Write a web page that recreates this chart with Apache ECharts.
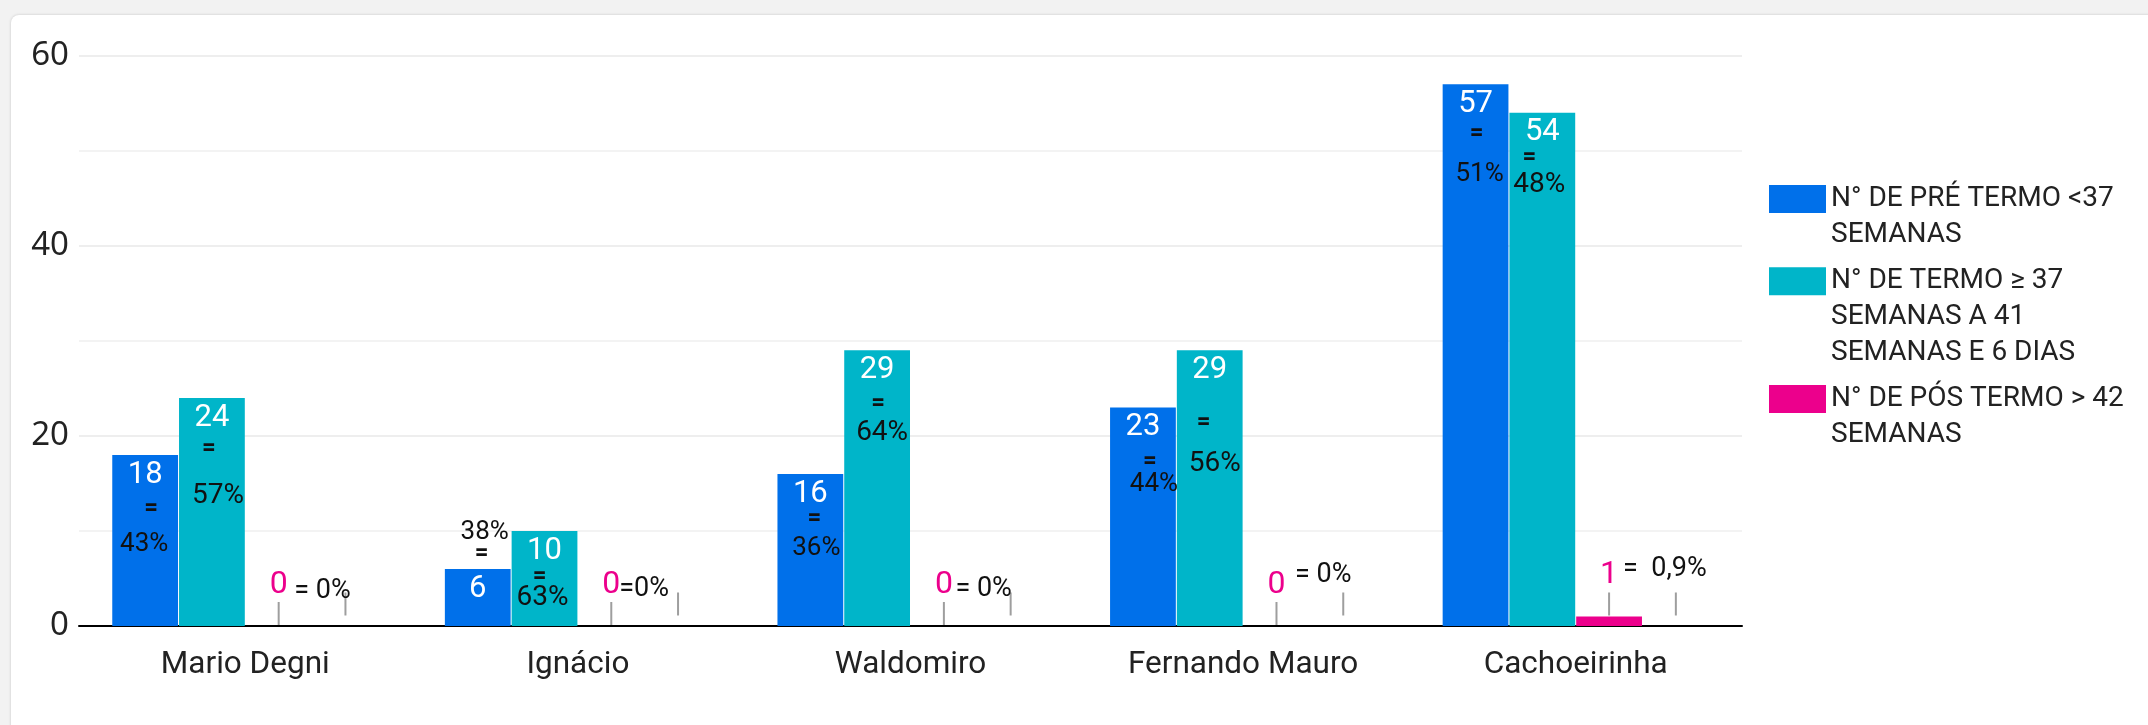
<!DOCTYPE html>
<html>
<head>
<meta charset="utf-8">
<script src="https://cdn.jsdelivr.net/npm/echarts@6/dist/echarts.min.js"></script>
<style>
html,body{margin:0;padding:0;width:2148px;height:725px;overflow:hidden;background:#f2f2f2;}
#card{position:absolute;left:11px;top:15px;width:2300px;height:900px;background:#fff;border-radius:8px;box-shadow:0 0 3px rgba(0,0,0,0.18);}
#chart{position:absolute;left:0;top:0;width:2148px;height:725px;}
</style>
</head>
<body>
<div id="card"></div>
<div id="chart"></div>
<script>
// ---- data ----
const categories = ['Mario Degni', 'Ignácio', 'Waldomiro', 'Fernando Mauro', 'Cachoeirinha'];
const seriesNames = [
  'N° DE PRÉ TERMO <37 SEMANAS',
  'N° DE TERMO ≥ 37 SEMANAS A 41 SEMANAS E 6 DIAS',
  'N° DE PÓS TERMO > 42 SEMANAS'
];
const legendLabels = [
  'N° DE PRÉ TERMO <37\nSEMANAS',
  'N° DE TERMO ≥ 37\nSEMANAS A 41\nSEMANAS E 6 DIAS',
  'N° DE PÓS TERMO > 42\nSEMANAS'
];
const preTermo = [18, 6, 16, 23, 57];
const termo = [24, 10, 29, 29, 54];
const posTermo = [0, 0, 0, 0, 1];
const annotationCarrier = [1, 1, 1, 1, 1]; // hidden 4th series that carries the "= x%" notes
const prePct = ['43%', '38%', '36%', '44%', '51%'];
const termoPct = ['57%', '63%', '64%', '56%', '48%'];
const posPct = ['= 0%', '=0%', '= 0%', '= 0%', '=  0,9%'];
const eqSign = ['=', '=', '=', '=', '='];
const yMin = 0, yMax = 60, yStep = 20;

// ---- annotation placement (pixel offsets from the bar top, styles only) ----
const preEqOff = [[6, 54], [4, -15], [4, 45], [7, 55], [1, 50]];
const prePctOff = [[-1, 90], [7, -36], [6, 75], [11, 77], [4, 90]];
const termoEqOff = [[-3, 51], [-5, 46], [1, 54], [-6, 73], [-13, 45]];
const termoPctOff = [[6, 98], [-2, 67], [5, 83], [5, 114], [-3, 72]];
const posPctOff = [[-23, -25], [-34, -27], [-27, -27], [-20, -41], [-11, -47]];

const BLUE = '#0070ea', TEAL = '#00b5c9', PINK = '#ec008c';
const FONT = 'Roboto';

function stemPoints(vals) {
  return categories.map((c, i) => ({
    coord: [c, vals[i]], symbol: 'rect', symbolSize: [2, 23], symbolOffset: [0, -12.5],
    itemStyle: { color: '#9e9e9e' }, label: { show: false }
  }));
}
function textPoints(vals, texts, offs, size, weight) {
  return categories.map((c, i) => ({
    coord: [c, vals[i]], symbol: 'circle', symbolSize: 1,
    itemStyle: { color: 'rgba(0,0,0,0)' },
    label: { show: true, position: 'inside', formatter: texts[i], offset: offs[i],
             fontSize: size, fontWeight: weight || 'normal', fontFamily: FONT, color: '#111' }
  }));
}
const valueLabel = {
  show: true, position: 'insideTop', distance: 4, color: '#fff',
  fontFamily: FONT, fontSize: 31, lineHeight: 32
};

const chart = echarts.init(document.getElementById('chart'));
const LH = 36;
const iconTops = [185, 267.3, 385];
const legends = seriesNames.map((n, k) => {
  const lines = legendLabels[k].split('\n').length;
  // leading blank lines keep the first text line level with the swatch
  const lead = '\n'.repeat(lines - 1);
  const top = iconTops[k] - ((2 * lines - 1) * LH / 2 - 14);
  return {
    left: 1769, top: top, orient: 'vertical', padding: 0,
    itemWidth: 57, itemHeight: 28, itemGap: 0, icon: 'rect', selectedMode: false,
    data: [n],
    formatter: () => lead + legendLabels[k],
    textStyle: { fontFamily: FONT, fontSize: 28, color: '#222', lineHeight: LH }
  };
});

chart.setOption({
  animation: false,
  backgroundColor: 'transparent',
  grid: { left: 79, right: 406, top: 55.7, bottom: 99, containLabel: false },
  legend: legends,
  xAxis: {
    type: 'category', data: categories,
    axisTick: { show: false },
    axisLine: { lineStyle: { color: '#000', width: 2 } },
    axisLabel: { fontFamily: FONT, fontSize: 31.5, color: '#222', margin: 23 }
  },
  yAxis: {
    type: 'value', min: yMin, max: yMax, interval: yStep,
    axisLine: { show: false }, axisTick: { show: false },
    axisLabel: { fontFamily: 'Noto Sans', fontSize: 33, color: '#222', margin: 10 },
    splitLine: { lineStyle: { color: '#eeeeee', width: 2 } },
    minorTick: { show: false, splitNumber: 2 },
    minorSplitLine: { show: true, lineStyle: { color: '#f3f3f3', width: 2 } }
  },
  series: [
    {
      name: seriesNames[0], type: 'bar', data: preTermo, barGap: '1.5%', barCategoryGap: '20%',
      itemStyle: { color: BLUE }, label: valueLabel,
      markPoint: { silent: true, animation: false,
        data: textPoints(preTermo, eqSign, preEqOff, 24, 'bold').concat(textPoints(preTermo, prePct, prePctOff, 26)) }
    },
    {
      name: seriesNames[1], type: 'bar', data: termo, barGap: '1.5%', barCategoryGap: '20%',
      itemStyle: { color: TEAL }, label: valueLabel,
      markPoint: { silent: true, animation: false,
        data: textPoints(termo, eqSign, termoEqOff, 24, 'bold').concat(textPoints(termo, termoPct, termoPctOff, 28)) }
    },
    {
      name: seriesNames[2], type: 'bar', data: posTermo, barGap: '1.5%', barCategoryGap: '20%',
      itemStyle: { color: PINK },
      label: { show: true, position: 'top', distance: 26, color: PINK, fontFamily: FONT, fontSize: 32, lineHeight: 31 },
      markPoint: { silent: true, animation: false, data: stemPoints(posTermo) }
    },
    {
      name: 'annotation', type: 'bar', data: annotationCarrier, barGap: '1.5%', barCategoryGap: '20%',
      itemStyle: { color: 'rgba(0,0,0,0)' }, label: { show: false },
      markPoint: { silent: true, animation: false,
        data: stemPoints(annotationCarrier).concat(textPoints(annotationCarrier, posPct, posPctOff, 27)) }
    }
  ]
});
</script>
</body>
</html>
